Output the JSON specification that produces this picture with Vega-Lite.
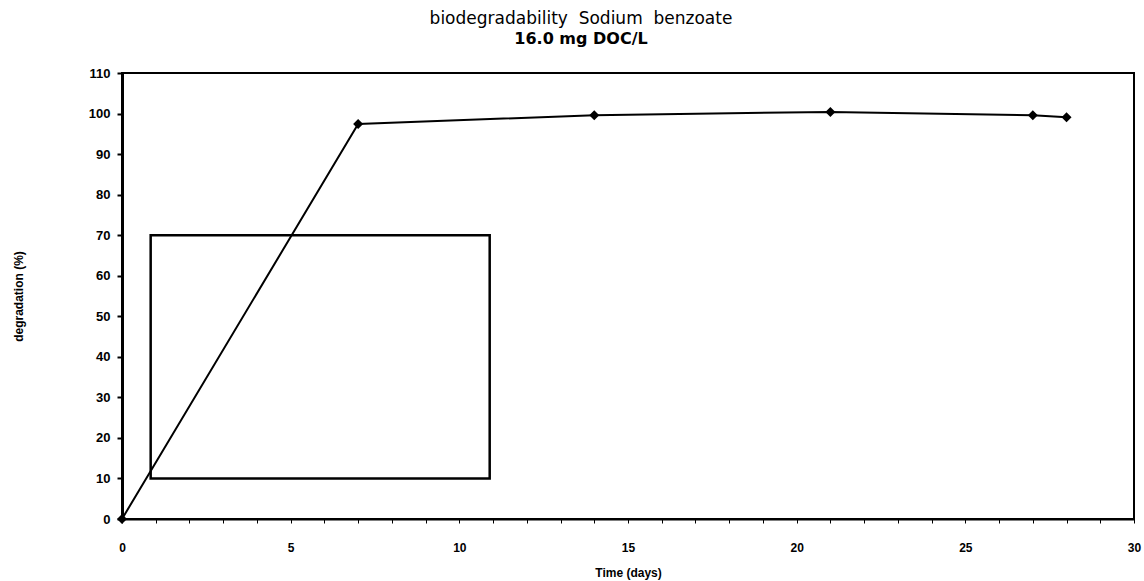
{
  "$schema": "https://vega.github.io/schema/vega-lite/v6.json",
  "width": 1012,
  "height": 446,
  "autosize": "none",
  "padding": {"left": 122, "top": 73, "right": 10, "bottom": 62},
  "background": "white",
  "title": {
    "text": "biodegradability\u00a0 Sodium\u00a0 benzoate",
    "subtitle": "16.0 mg DOC/L",
    "anchor": "middle",
    "dx": -47,
    "offset": 19,
    "font": "DejaVu Sans",
    "fontSize": 17,
    "fontWeight": "normal",
    "color": "black",
    "subtitleFont": "DejaVu Sans",
    "subtitleFontSize": 16,
    "subtitleFontWeight": "bold",
    "subtitleColor": "black",
    "subtitlePadding": 3
  },
  "config": {
    "view": {"stroke": "black", "strokeWidth": 2},
    "axis": {"grid": false, "domainColor": "black", "tickColor": "black", "labelColor": "black", "titleColor": "black"}
  },
  "datasets": {
    "window": [{"time": 0.85, "time_end": 10.9, "degradation": 10, "degradation_end": 70}],
    "series": [
      {"time": 0, "degradation": 0},
      {"time": 7, "degradation": 97.4},
      {"time": 14, "degradation": 99.6},
      {"time": 21, "degradation": 100.4},
      {"time": 27, "degradation": 99.6},
      {"time": 28, "degradation": 99.1}
    ]
  },
  "encoding": {
    "x": {
      "field": "time",
      "type": "quantitative",
      "scale": {"domain": [0, 30], "nice": false, "zero": true},
      "axis": {
        "title": "Time (days)",
        "values": [0,1,2,3,4,5,6,7,8,9,10,11,12,13,14,15,16,17,18,19,20,21,22,23,24,25,26,27,28,29,30],
        "labelExpr": "datum.value % 5 === 0 ? format(datum.value, 'd') : ''",
        "labelOverlap": false,
        "domainWidth": 2,
        "tickSize": 4,
        "tickWidth": 1,
        "labelPadding": 19,
        "labelFont": "Liberation Sans",
        "labelFontSize": 12,
        "labelFontWeight": "bold",
        "labelFlush": false,
        "titleFont": "Liberation Sans",
        "titleFontSize": 12,
        "titleFontWeight": "bold",
        "titleX": 506,
        "titleY": 53,
        "titleBaseline": "middle"
      }
    },
    "y": {
      "field": "degradation",
      "type": "quantitative",
      "scale": {"domain": [0, 110], "nice": false},
      "axis": {
        "title": "degradation (%)",
        "values": [0,10,20,30,40,50,60,70,80,90,100,110],
        "labelOverlap": false,
        "domainWidth": 3,
        "tickSize": 5,
        "tickWidth": 2,
        "labelPadding": 7,
        "labelFont": "Liberation Sans",
        "labelFontSize": 13,
        "labelFontWeight": "bold",
        "labelFlush": false,
        "titleFont": "Liberation Sans",
        "titleFontSize": 12,
        "titleFontWeight": "bold",
        "titleAngle": -90,
        "titleX": -104,
        "titleY": 223,
        "titleAlign": "center",
        "titleBaseline": "middle"
      }
    }
  },
  "layer": [
    {
      "data": {"name": "window"},
      "mark": {"type": "rect", "fill": null, "fillOpacity": 0, "stroke": "black", "strokeWidth": 2.5},
      "encoding": {
        "x2": {"field": "time_end"},
        "y2": {"field": "degradation_end"}
      }
    },
    {
      "data": {"name": "series"},
      "mark": {"type": "line", "color": "black", "strokeWidth": 2, "point": {"shape": "diamond", "filled": true, "color": "black", "size": 100}}
    }
  ]
}
